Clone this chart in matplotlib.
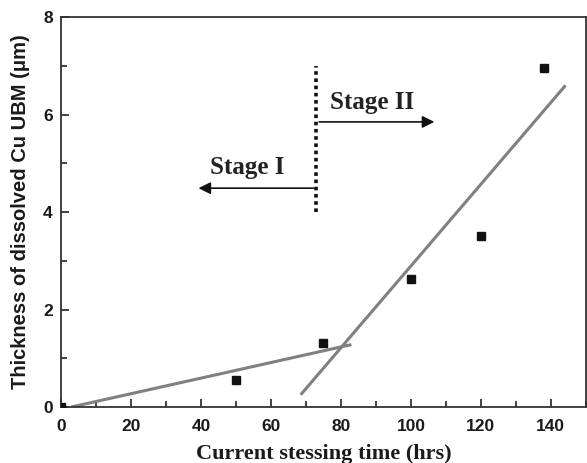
import matplotlib
matplotlib.use("Agg")
import matplotlib.pyplot as plt
from matplotlib.ticker import MultipleLocator

# Measured data points
time_hrs = [0, 50, 75, 100, 120, 138]
thickness = [0.0, 0.56, 1.32, 2.63, 3.5, 6.95]

# Fitted line segments (endpoints)
fit1_x = [3, 83]
fit1_y = [0.0, 1.28]
fit2_x = [68.5, 144.2]
fit2_y = [0.25, 6.6]

# Stage boundary
boundary_x = 73
boundary_y = [4.0, 7.0]

stage1_label = "Stage I"
stage2_label = "Stage II"

fig = plt.figure(figsize=(5.87, 4.63), dpi=100)
ax = fig.add_axes([0.1039, 0.121, 0.8941, 0.842])

ax.plot(fit1_x, fit1_y, color="#808080", lw=2.2, solid_capstyle="butt")
ax.plot(fit2_x, fit2_y, color="#808080", lw=2.2, solid_capstyle="butt")
ax.plot(time_hrs, thickness, ls="none", marker="s", ms=6, color="#111111", zorder=3)

ax.plot([boundary_x, boundary_x], boundary_y, color="#111111", lw=2.6, ls=(0, (1, 1)))

ax.annotate("", xy=(107.5, 5.85), xytext=(boundary_x, 5.85),
            arrowprops=dict(arrowstyle="-|>", color="#111111", lw=1.2, mutation_scale=18))
ax.annotate("", xy=(38.5, 4.49), xytext=(boundary_x, 4.49),
            arrowprops=dict(arrowstyle="-|>", color="#111111", lw=1.2, mutation_scale=18))

ax.text(77, 6.25, stage2_label, family="Liberation Serif", weight="bold", fontsize=18,
        ha="left", va="center", color="#222222")
ax.text(42.5, 4.92, stage1_label, family="Liberation Serif", weight="bold", fontsize=18,
        ha="left", va="center", color="#222222")

ax.set_xlim(0, 150)
ax.set_ylim(0, 8)
ax.xaxis.set_major_locator(MultipleLocator(20))
ax.xaxis.set_minor_locator(MultipleLocator(10))
ax.yaxis.set_major_locator(MultipleLocator(2))
ax.yaxis.set_minor_locator(MultipleLocator(1))
ax.tick_params(which="both", direction="in", top=False, right=False, width=1.2, color="#222222")
ax.tick_params(which="major", length=6)
ax.tick_params(which="minor", length=4)
ax.tick_params(axis="x", which="major", pad=9)
ax.tick_params(axis="y", which="major", pad=6)
for lab in ax.get_xticklabels() + ax.get_yticklabels():
    lab.set_family("Liberation Sans")
    lab.set_fontweight("bold")
    lab.set_fontsize(12.5)
    lab.set_color("#1a1a1a")
for sp in ax.spines.values():
    sp.set_linewidth(1.3)
    sp.set_color("#333333")

ax.set_xlabel("Current stessing time (hrs)", family="Liberation Serif", weight="bold",
              fontsize=16, color="#1a1a1a", labelpad=7)
ax.set_ylabel("Thickness of dissolved Cu UBM (\u03bcm)", family="Liberation Sans",
              weight="bold", fontsize=14.5, color="#1a1a1a", labelpad=9)

fig.savefig("out.png", dpi=100)
